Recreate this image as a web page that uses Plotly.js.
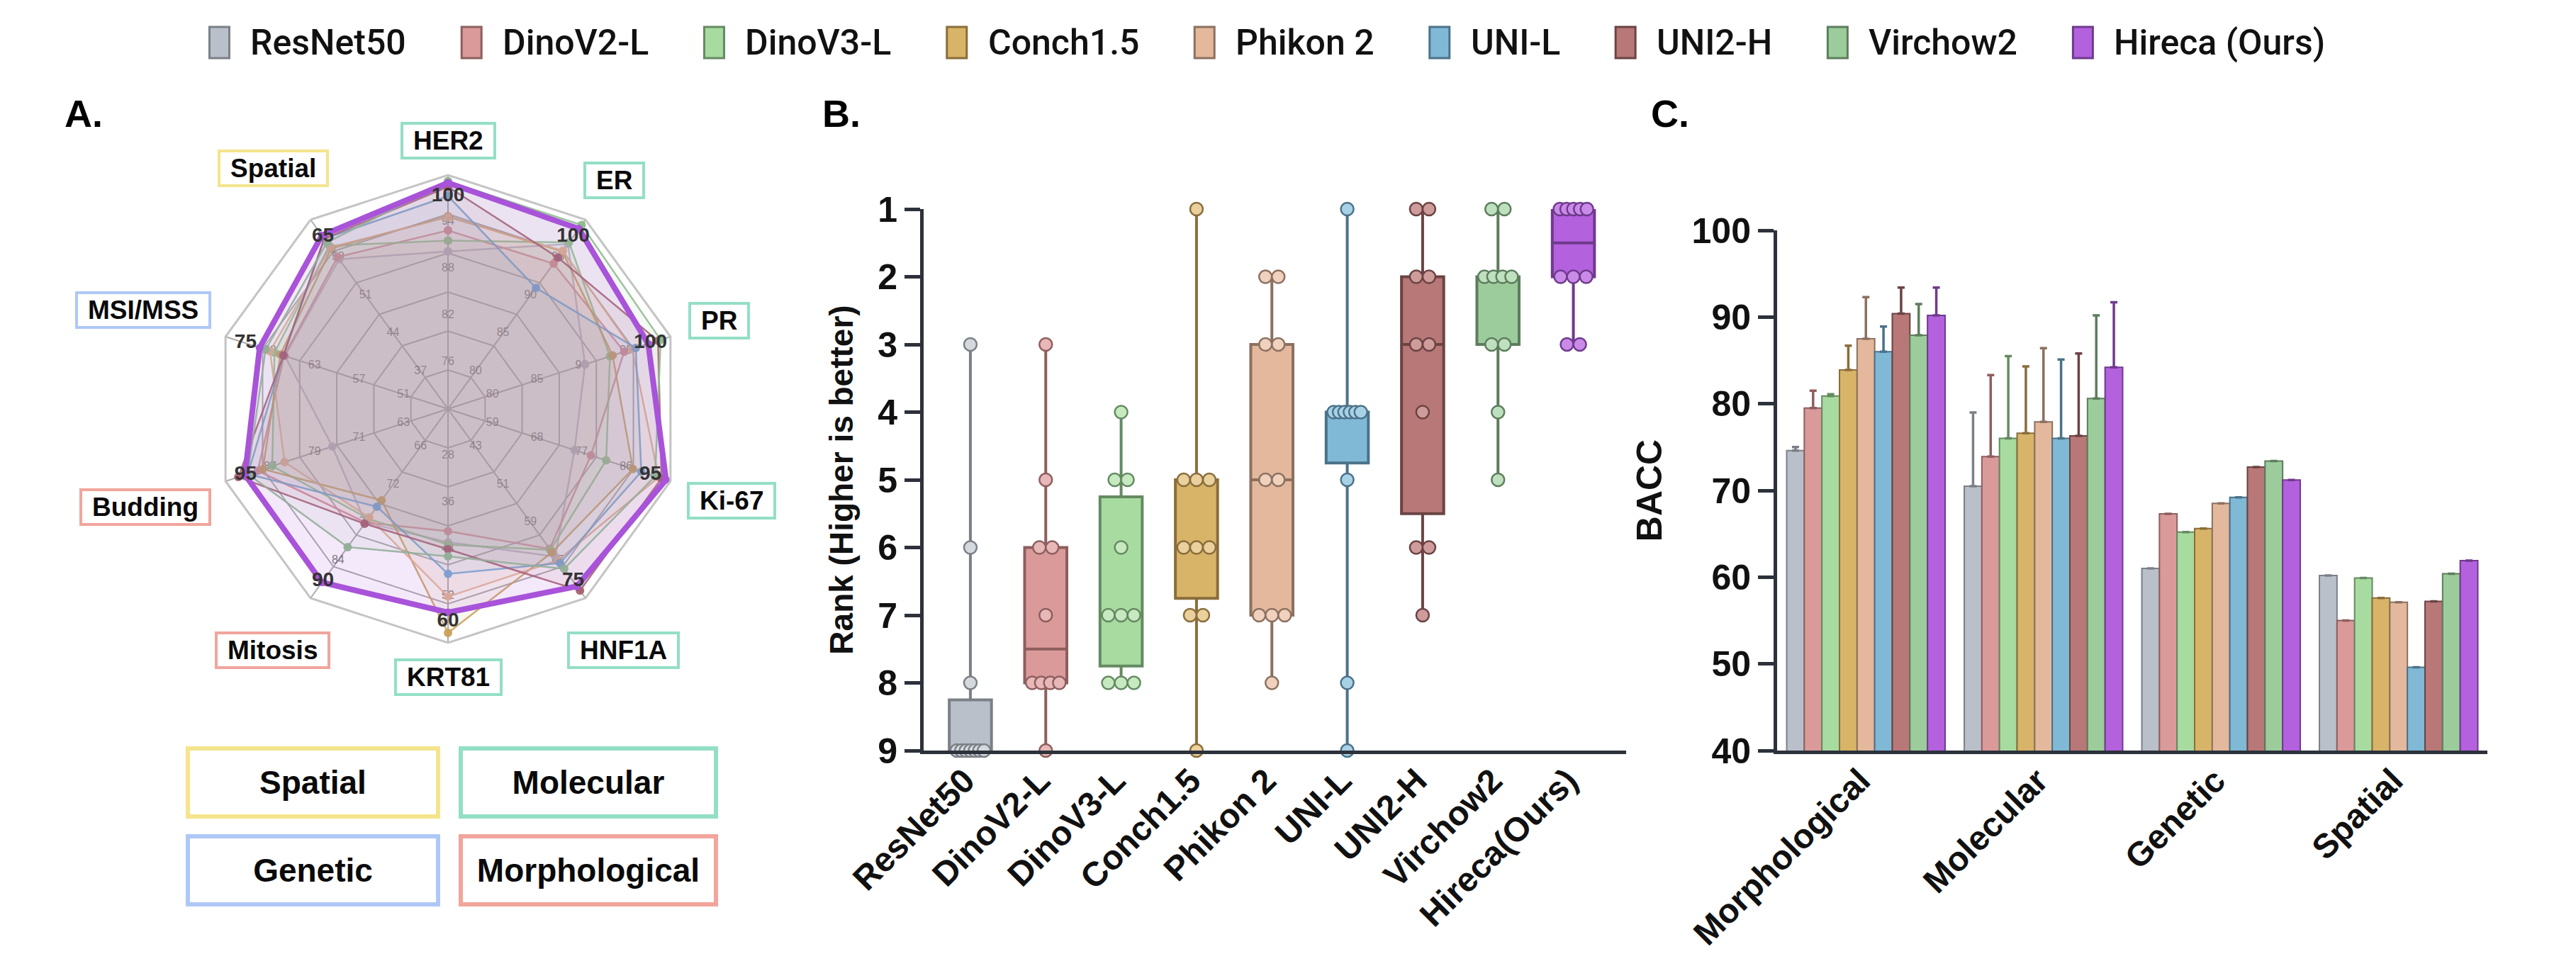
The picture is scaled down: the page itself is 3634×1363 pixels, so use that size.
<!DOCTYPE html>
<html>
<head>
<meta charset="utf-8">
<script src="https://cdn.plot.ly/plotly-3.0.1.min.js"></script>
<style>
html,body{margin:0;padding:0;background:#fff;}
#chart{width:3634px;height:1363px;}
</style>
</head>
<body>
<div id="chart"></div>
<script>
// ================= DATA =================
const models = ['ResNet50','DinoV2-L','DinoV3-L','Conch1.5','Phikon 2','UNI-L','UNI2-H','Virchow2','Hireca'];
const legendLabels = ['ResNet50','DinoV2-L','DinoV3-L','Conch1.5','Phikon 2','UNI-L','UNI2-H','Virchow2','Hireca (Ours)'];
const boxTickLabels = ['ResNet50','DinoV2-L','DinoV3-L','Conch1.5','Phikon 2','UNI-L','UNI2-H','Virchow2','Hireca(Ours)'];

// Panel A: radar (each axis has its own scale)
const radarAxes = ['HER2','ER','PR','Ki-67','HNF1A','KRT81','Mitosis','Budding','MSI/MSS','Spatial'];
const radarAxisGroups = ['Molecular','Molecular','Molecular','Molecular','Molecular','Molecular','Morphological','Morphological','Genetic','Spatial'];
const radarAxisMin = [70, 75, 75, 50, 35, 20, 60, 55, 45, 30];
const radarAxisMax = [100, 100, 100, 95, 75, 60, 90, 95, 75, 65];
const radarResNet50 = [90.2, 96.8, 90.4, 75.6, 66.2, 42.8, 78.0, 75.8, 67.0, 57.7];
const radarDinoV2L  = [92.9, 94.2, 94.8, 78.9, 64.6, 40.9, 78.0, 89.2, 67.1, 58.1];
const radarDinoV3L  = [91.6, 97.0, 93.2, 82.0, 64.8, 43.2, 77.4, 86.6, 68.4, 60.2];
const radarConch15  = [94.7, 95.8, 93.5, 87.4, 65.3, 58.3, 74.5, 88.3, 67.6, 59.7];
const radarPhikon2  = [94.6, 95.9, 95.7, 92.6, 67.0, 52.1, 77.2, 84.4, 69.0, 59.9];
const radarUNIL     = [97.3, 91.0, 96.1, 89.1, 67.6, 48.2, 75.5, 91.0, 67.2, 61.5];
const radarUNI2H    = [98.5, 95.0, 98.6, 93.2, 73.4, 44.0, 78.2, 92.7, 67.2, 61.5];
const radarVirchow2 = [99.2, 99.3, 98.9, 91.9, 68.8, 45.2, 81.9, 91.0, 69.6, 60.8];
const radarHireca   = [99.0, 98.8, 97.5, 94.1, 72.5, 54.8, 87.5, 91.5, 70.4, 62.1];
const radarValues = [radarResNet50, radarDinoV2L, radarDinoV3L, radarConch15, radarPhikon2, radarUNIL, radarUNI2H, radarVirchow2, radarHireca];

// Panel B: ranks over the 10 tasks (1 = best)
const rankResNet50 = [3, 6, 8, 9, 9, 9, 9, 9, 9, 9];
const rankDinoV2L  = [3, 5, 6, 6, 7, 8, 8, 8, 8, 9];
const rankDinoV3L  = [4, 5, 5, 6, 7, 7, 7, 8, 8, 8];
const rankConch15  = [1, 5, 5, 5, 6, 6, 6, 7, 7, 9];
const rankPhikon2  = [2, 2, 3, 3, 5, 5, 7, 7, 7, 8];
const rankUNIL     = [1, 4, 4, 4, 4, 4, 4, 5, 8, 9];
const rankUNI2H    = [1, 1, 2, 2, 3, 3, 4, 6, 6, 7];
const rankVirchow2 = [1, 1, 2, 2, 2, 2, 3, 3, 4, 5];
const rankHireca   = [1, 1, 1, 1, 1, 2, 2, 2, 3, 3];
const ranks = [rankResNet50, rankDinoV2L, rankDinoV3L, rankConch15, rankPhikon2, rankUNIL, rankUNI2H, rankVirchow2, rankHireca];
const rankTicks = [1, 2, 3, 4, 5, 6, 7, 8, 9];

// Panel C: BACC per task category (mean) and upper error
const barCategories = ['Morphological','Molecular','Genetic','Spatial'];
const baccResNet50 = [74.6, 70.5, 61.0, 60.2];
const baccDinoV2L  = [79.5, 73.9, 67.3, 55.0];
const baccDinoV3L  = [80.9, 76.0, 65.2, 59.9];
const baccConch15  = [83.9, 76.6, 65.6, 57.6];
const baccPhikon2  = [87.5, 77.9, 68.5, 57.1];
const baccUNIL     = [86.0, 76.0, 69.2, 49.6];
const baccUNI2H    = [90.4, 76.3, 72.7, 57.2];
const baccVirchow2 = [87.9, 80.6, 73.4, 60.4];
const baccHireca   = [90.2, 84.2, 71.2, 61.9];
const errResNet50 = [0.4, 8.5, null, null];
const errDinoV2L  = [2.0, 9.4, null, null];
const errDinoV3L  = [0.2, 9.5, null, null];
const errConch15  = [2.8, 7.7, null, null];
const errPhikon2  = [4.8, 8.5, null, null];
const errUNIL     = [2.9, 9.1, null, null];
const errUNI2H    = [3.0, 9.5, null, null];
const errVirchow2 = [3.6, 9.6, null, null];
const errHireca   = [3.2, 7.5, null, null];
const bacc = [baccResNet50, baccDinoV2L, baccDinoV3L, baccConch15, baccPhikon2, baccUNIL, baccUNI2H, baccVirchow2, baccHireca];
const baccErr = [errResNet50, errDinoV2L, errDinoV3L, errConch15, errPhikon2, errUNIL, errUNI2H, errVirchow2, errHireca];

// ================= STYLE =================
const W = 3634, H = 1363;
const px = x => x / W;
const py = y => 1 - y / H;
const FONT = 'Liberation Sans';
const LEGFONT = 'Roboto';
const AXIS = '#2c313a';
const fillColors  = ['#b9c0c9','#db9a9a','#a8dba0','#d8b468','#e3b89c','#80b9d5','#b87878','#9ccc9c','#b461de'];
const edgeColors  = ['#7b8087','#8e5e5e','#658a62','#8a6d3b','#8c7060','#4b7289','#6b4343','#5d7d5d','#6f3a8c'];
const dotColors   = ['#d5d9de','#e8b7b7','#c6e9bf','#e9d09c','#efd1bd','#a9d1e6','#cf9c9c','#bfe0bf','#c98ae8'];
const radarColors = ['#bfb6cb','#d88d98','#93c68f','#c9a15b','#e2b48f','#78a9cf','#a65f6d','#8fbb8f','#a853d9'];
const groupColors = {Spatial:'#f4e48c', Molecular:'#93dfc5', Genetic:'#aec8f6', Morphological:'#f1a59c'};

function hexA(hex, a){
  const n = parseInt(hex.slice(1), 16);
  return 'rgba(' + (n >> 16) + ',' + ((n >> 8) & 255) + ',' + (n & 255) + ',' + a + ')';
}
// measure text with the same SVG engine Plotly uses
const measSvg = document.createElementNS('http://www.w3.org/2000/svg', 'svg');
measSvg.setAttribute('width', '10'); measSvg.setAttribute('height', '10');
measSvg.style.position = 'absolute'; measSvg.style.left = '-9999px'; measSvg.style.top = '0';
document.body.appendChild(measSvg);
function textWidth(t, family, size, weight){
  const el = document.createElementNS('http://www.w3.org/2000/svg', 'text');
  el.setAttribute('x', '0'); el.setAttribute('y', '50');
  el.style.fontFamily = family; el.style.fontSize = size + 'px'; el.style.fontWeight = weight;
  el.textContent = t;
  measSvg.appendChild(el);
  const w = el.getComputedTextLength();
  measSvg.removeChild(el);
  return w;
}

const traces = [];
const annotations = [];
const shapes = [];

// ================= PANEL A: RADAR =================
const RC = {x: 632, y: 577, r: 330};
const rScale = 1.2;
function norm(v, i){ return (v - radarAxisMin[i]) / (radarAxisMax[i] - radarAxisMin[i]) * rScale; }

// per-axis small tick labels
const tlR = [], tlT = [], tlS = [];
radarAxes.forEach((a, i) => {
  const step = (radarAxisMax[i] - radarAxisMin[i]) / 5;
  for (let k = 1; k <= 4; k++) {
    const v = radarAxisMin[i] + step * k;
    tlR.push(norm(v, i)); tlT.push(a); tlS.push(String(Math.round(v)));
  }
});
traces.push({type:'scatterpolar', subplot:'polar', r: tlR, theta: tlT, text: tlS, mode:'text',
  textfont:{family: FONT, size: 16, color:'rgba(80,80,80,0.78)'}, hoverinfo:'skip', showlegend:false});

models.forEach((m, j) => {
  const vals = radarValues[j];
  const r = vals.map((v, i) => norm(v, i)); r.push(r[0]);
  const th = radarAxes.slice(); th.push(th[0]);
  const ours = (j === models.length - 1);
  traces.push({type:'scatterpolar', subplot:'polar', r: r, theta: th, name: m,
    mode:'lines+markers', fill:'toself',
    fillcolor: hexA(radarColors[j], ours ? 0.13 : 0.085),
    line:{color: hexA(radarColors[j], ours ? 1 : 0.88), width: ours ? 8 : 2.5},
    marker:{size: ours ? 11 : 12, color: hexA(radarColors[j], 0.95)},
    hoverinfo:'skip', showlegend:false});
});

// bold max labels
traces.push({type:'scatterpolar', subplot:'polar',
  r: radarAxes.map(() => rScale * 0.91), theta: radarAxes.slice(),
  text: radarAxisMax.map(v => '<b>' + v + '</b>'), mode:'text',
  textfont:{family: FONT, size: 28, color:'#333333'}, hoverinfo:'skip', showlegend:false});

// category-coloured axis label boxes
radarAxes.forEach((a, i) => {
  const ang = (90 - 36 * i) * Math.PI / 180;
  const fs = 37;
  const tw = textWidth(a, FONT, fs, 'bold');
  const bw = tw + 36, bh = 53;
  const c = Math.cos(ang), s = Math.sin(ang);
  const d = RC.r + 22 + Math.abs(c) * bw / 2 + Math.abs(s) * bh / 2;
  annotations.push({xref:'paper', yref:'paper', x: px(RC.x + d * c), y: py(RC.y - d * s),
    xanchor:'center', yanchor:'middle', showarrow:false,
    text:'<b>' + a + '</b>', font:{family: FONT, size: fs, color:'#0a0a0a'},
    bordercolor: groupColors[radarAxisGroups[i]], borderwidth: 4, borderpad: 0,
    width: bw - 8, height: bh - 8, bgcolor:'#ffffff'});
});

// category legend boxes under the radar
const catBoxes = [
  {t:'Spatial', cx: 441, cy: 1104, w: 359},
  {t:'Molecular', cx: 830, cy: 1104, w: 366},
  {t:'Genetic', cx: 441, cy: 1228, w: 359},
  {t:'Morphological', cx: 830, cy: 1228, w: 366}
];
catBoxes.forEach(b => {
  annotations.push({xref:'paper', yref:'paper', x: px(b.cx), y: py(b.cy), xanchor:'center', yanchor:'middle',
    showarrow:false, text:'<b>' + b.t + '</b>', font:{family: FONT, size: 46, color:'#0a0a0a'},
    bordercolor: groupColors[b.t], borderwidth: 6, borderpad: 0, width: b.w - 12, height: 102 - 12, bgcolor:'#ffffff'});
});

// ================= PANEL B: BOX PLOT =================
function quantile(sorted, p){
  const idx = (sorted.length - 1) * p;
  const lo = Math.floor(idx), hi = Math.ceil(idx);
  return sorted[lo] + (sorted[hi] - sorted[lo]) * (idx - lo);
}
ranks.forEach((arr, j) => {
  const s = arr.slice().sort((a, b) => a - b);
  traces.push({type:'box', xaxis:'x', yaxis:'y', x:[j],
    q1:[quantile(s, 0.25)], median:[quantile(s, 0.5)], q3:[quantile(s, 0.75)],
    lowerfence:[s[0]], upperfence:[s[s.length - 1]],
    width: 0.56, fillcolor: fillColors[j], line:{color: edgeColors[j], width: 4},
    whiskerwidth: 0, boxpoints: false, hoverinfo:'skip', showlegend:false});
});
ranks.forEach((arr, j) => {
  const counts = {}; arr.forEach(v => counts[v] = (counts[v] || 0) + 1);
  const seen = {}; const xs = [], ys = [];
  arr.forEach(v => {
    const n = counts[v];
    const k = (seen[v] = (seen[v] || 0) + 1) - 1;
    const sp = n > 1 ? Math.min(0.17, 0.36 / (n - 1)) : 0;
    xs.push(j + (k - (n - 1) / 2) * sp); ys.push(v);
  });
  traces.push({type:'scatter', xaxis:'x', yaxis:'y', mode:'markers', x: xs, y: ys,
    marker:{size: 18, color: dotColors[j], line:{color: edgeColors[j], width: 2.5}},
    cliponaxis:false, hoverinfo:'skip', showlegend:false});
});

// ================= PANEL C: BARS =================
models.forEach((m, j) => {
  traces.push({type:'bar', xaxis:'x2', yaxis:'y2', name: legendLabels[j],
    x: barCategories, y: bacc[j],
    marker:{color: fillColors[j], line:{color: edgeColors[j], width: 2}},
    error_y:{type:'data', symmetric:false, array: baccErr[j], arrayminus: baccErr[j].map(() => 0),
      color: edgeColors[j], thickness: 3.5, width: 5},
    hoverinfo:'skip', showlegend:false});
});

// ================= TOP LEGEND (manual) =================
(function(){
  const fs = 50;
  const mw = 28, mh = 44, gap1 = 28, gap2 = 80;
  const widths = legendLabels.map(t => textWidth(t, LEGFONT, fs, '500'));
  let total = 0;
  widths.forEach((w, i) => { total += mw + gap1 + w + (i < widths.length - 1 ? gap2 : 0); });
  let x = 1787 - total / 2;
  const yc = 60;
  legendLabels.forEach((t, i) => {
    shapes.push({type:'rect', xref:'paper', yref:'paper', x0: px(x), x1: px(x + mw), y0: py(yc + mh / 2), y1: py(yc - mh / 2),
      fillcolor: fillColors[i], line:{color: edgeColors[i], width: 3}});
    annotations.push({xref:'paper', yref:'paper', x: px(x + mw + gap1), y: py(yc), xanchor:'left', yanchor:'middle',
      showarrow:false, text: t, font:{family: LEGFONT, size: fs, weight: 500, color:'#111111'}});
    x += mw + gap1 + widths[i] + gap2;
  });
})();

// panel letters
[['A.', 89], ['B.', 1158], ['C.', 2327]].forEach(p => {
  annotations.push({xref:'paper', yref:'paper', x: px(p[1]), y: py(160), xanchor:'left', yanchor:'middle',
    showarrow:false, text:'<b>' + p[0] + '</b>', font:{family: FONT, size: 54, color:'#000000'}});
});

// ================= LAYOUT =================
const tickLabFont = {family: FONT, size: 50, weight:'bold', color:'#111111'};
const layout = {
  width: W, height: H,
  margin:{l:0, r:0, t:0, b:0, pad:0},
  paper_bgcolor:'#ffffff', plot_bgcolor:'rgba(0,0,0,0)',
  font:{family: FONT, color:'#111111'},
  showlegend:false,
  barmode:'group', bargap: 0.108, bargroupgap: 0,
  polar:{
    domain:{x:[px(RC.x - RC.r), px(RC.x + RC.r)], y:[py(RC.y + RC.r), py(RC.y - RC.r)]},
    bgcolor:'#ffffff', gridshape:'linear',
    radialaxis:{range:[0, rScale], tickvals:[0.2, 0.4, 0.6, 0.8, 1.0], showticklabels:false, ticks:'',
      showline:false, gridcolor:'#ababab', gridwidth:2},
    angularaxis:{rotation:90, direction:'clockwise', categoryarray: radarAxes, showticklabels:false, ticks:'',
      showline:true, linecolor:'#c4c4c4', linewidth:3, gridcolor:'#ababab', gridwidth:2}
  },
  xaxis:{domain:[px(1303), px(2294)], anchor:'y', type:'linear', range:[-0.62, 8.70],
    tickmode:'array', tickvals: boxTickLabels.map((t, i) => i), ticktext: boxTickLabels,
    tickangle:-45, tickfont:{family: FONT, size: 48, weight:'bold', color:'#111111'},
    ticklabelstandoff: -10, ticklabelshift: -8,
    showline:true, linewidth:5, linecolor: AXIS, ticks:'', showgrid:false, zeroline:false},
  yaxis:{domain:[py(1059), py(295)], anchor:'x', range:[9, 1], tickmode:'array', tickvals: rankTicks,
    ticks:'outside', ticklen:22, tickwidth:5, tickcolor: AXIS, showline:true, linewidth:5, linecolor: AXIS,
    tickfont: tickLabFont,
    title:{text:'Rank (Higher is better)', font:{family: FONT, size: 46, weight:'bold', color:'#111111'}, standoff: 22},
    showgrid:false, zeroline:false},
  xaxis2:{domain:[px(2507), px(3509)], anchor:'y2', type:'category', categoryarray: barCategories,
    tickangle:-45, tickfont:{family: FONT, size: 48, weight:'bold', color:'#111111'},
    ticklabelstandoff: -10, ticklabelshift: -8,
    showline:true, linewidth:5, linecolor: AXIS, ticks:'', showgrid:false, zeroline:false},
  yaxis2:{domain:[py(1059), py(325)], anchor:'x2', range:[40, 100], dtick:10, tick0:40,
    ticks:'outside', ticklen:22, tickwidth:5, tickcolor: AXIS, showline:true, linewidth:5, linecolor: AXIS,
    tickfont: tickLabFont,
    title:{text:'BACC', font:{family: FONT, size: 50, weight:'bold', color:'#111111'}, standoff: 28},
    showgrid:false, zeroline:false},
  annotations: annotations,
  shapes: shapes
};

Plotly.newPlot('chart', traces, layout, {staticPlot:true, displayModeBar:false});
</script>
</body>
</html>
